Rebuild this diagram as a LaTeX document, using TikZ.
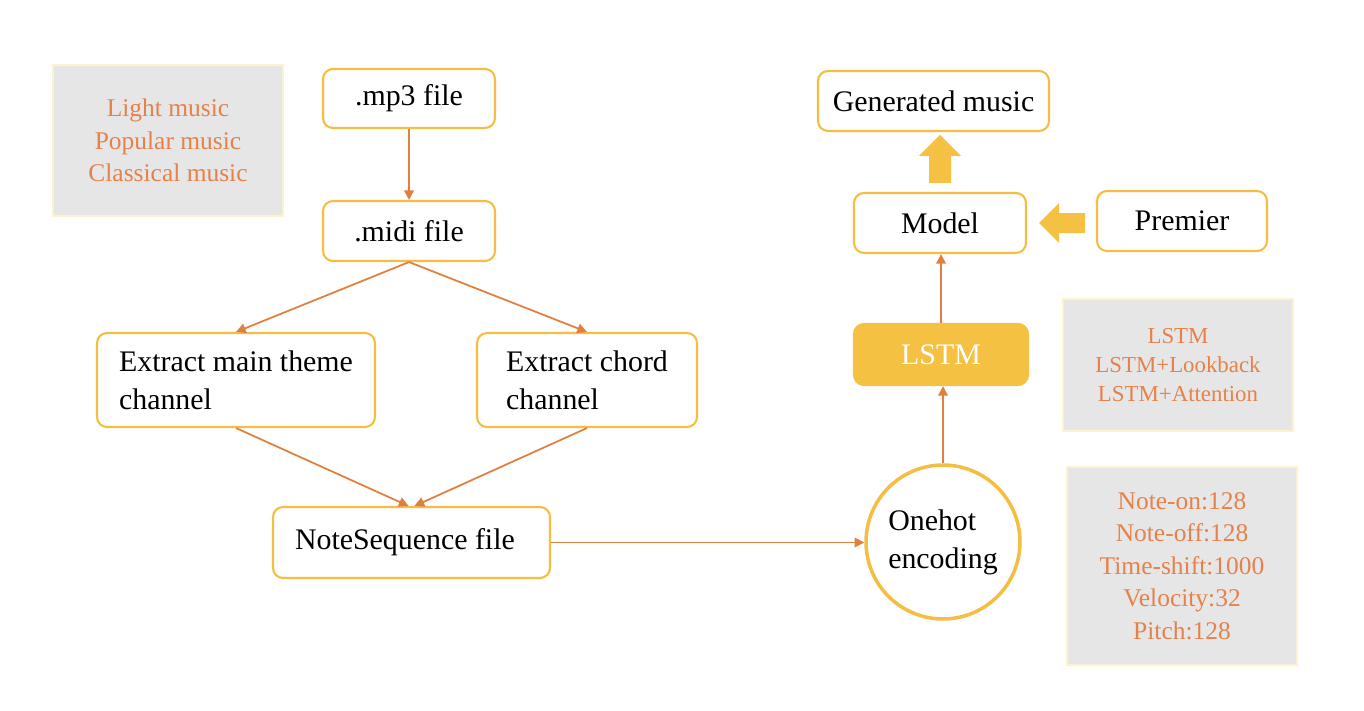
\documentclass[tikz,border=0pt]{standalone}
\usepackage{fontspec}
\setmainfont{Liberation Serif}
\usetikzlibrary{arrows.meta}

\definecolor{boxline}{RGB}{245,190,66}
\definecolor{lstmfill}{RGB}{245,193,66}
\definecolor{arrowc}{RGB}{224,127,62}
\definecolor{greyfill}{RGB}{230,230,230}
\definecolor{greyline}{RGB}{253,242,208}
\definecolor{notetext}{RGB}{229,130,75}

\begin{document}
\begin{tikzpicture}[x=0.02cm, y=-0.02cm,
    >={Triangle[length=5.5pt,width=5.5pt]},
    stepbox/.style={draw=boxline, line width=1.2pt, rounded corners=0.2cm, fill=white,
        minimum height=1.2cm, font=\fontsize{17}{21.5}\selectfont},
    notebox/.style={draw=greyline, line width=1.2pt, fill=greyfill, text=notetext, align=center,
        minimum width=4.6cm, font=\fontsize{14.5}{18.5}\selectfont},
    flow/.style={->, draw=arrowc, line width=1pt},
    bigarrow/.style={fill=lstmfill}]
    \useasboundingbox (0,0) rectangle (1364,710);

    % left column: conversion pipeline
    \node[notebox, minimum height=3.02cm] (genres) at (168,140.5) {Light music\\Popular music\\Classical music};
    \node[stepbox, minimum width=3.44cm, minimum height=1.18cm] (mp3) at (409,98.5) {.mp3 file};
    \node[stepbox, minimum width=3.44cm] (midi) at (409,231) {.midi file};
    \node[stepbox, minimum width=5.56cm, minimum height=1.88cm, align=left] (mainth) at (236,380) {Extract main theme\\channel};
    \node[stepbox, minimum width=4.4cm, minimum height=1.88cm, align=left] (chord) at (587,380) {Extract chord\\channel};
    \node[stepbox, inner xsep=0.44cm, text width=4.66cm, align=flush left, minimum height=1.42cm] (noteseq) at (411.5,542.5) {NoteSequence file};

    % right column: encoding and model
    \node[stepbox, circle, minimum size=3.08cm, line width=2pt, align=left] (onehot) at (943,542) {Onehot\\encoding};
    \node[stepbox, fill=lstmfill, draw=lstmfill, text=white, minimum width=3.48cm, minimum height=1.22cm] (lstm) at (941,354.5) {LSTM};
    \node[stepbox, minimum width=3.44cm] (model) at (940,223) {Model};
    \node[stepbox, minimum width=4.62cm] (gen) at (933.5,101) {Generated music};
    \node[stepbox, minimum width=3.4cm] (premier) at (1182,221) {Premier};
    \node[notebox, minimum height=2.64cm, font=\fontsize{13}{16.5}\selectfont] (variants) at (1178,365) {LSTM\\LSTM+Lookback\\LSTM+Attention};
    \node[notebox, minimum height=3.96cm] (events) at (1182,566) {Note-on:128\\Note-off:128\\Time-shift:1000\\Velocity:32\\Pitch:128};

    \draw[flow] (mp3) -- (midi);
    \draw[flow] (midi.south) -- (mainth.north);
    \draw[flow] (midi.south) -- (chord.north);
    \draw[flow] (mainth.south) -- ([xshift=-0.06cm]noteseq.north);
    \draw[flow] (chord.south) -- ([xshift=0.06cm]noteseq.north);
    \draw[flow] (noteseq.east) -- (noteseq.east -| onehot.west);
    \draw[flow] (onehot.north) -- (onehot.north |- lstm.south);
    \draw[flow] (lstm.north) -- (lstm.north |- model.south);

    % block arrows
    \coordinate (upbase) at ([yshift=0.18cm]model.north);
    \fill[bigarrow] ([xshift=-0.22cm]upbase) -- ++(0,0.54cm) -- ++(-0.2cm,0) -- ([yshift=0.96cm]upbase)
        -- ([xshift=0.42cm,yshift=0.54cm]upbase) -- ++(-0.2cm,0) -- ([xshift=0.22cm]upbase) -- cycle;
    \coordinate (lefttip) at ([xshift=0.24cm]model.east);
    \fill[bigarrow] (lefttip) -- ++(0.4cm,0.4cm) -- ++(0,-0.2cm) -- ++(0.52cm,0) -- ++(0,-0.4cm)
        -- ++(-0.52cm,0) -- ++(0,-0.2cm) -- cycle;
\end{tikzpicture}
\end{document}
